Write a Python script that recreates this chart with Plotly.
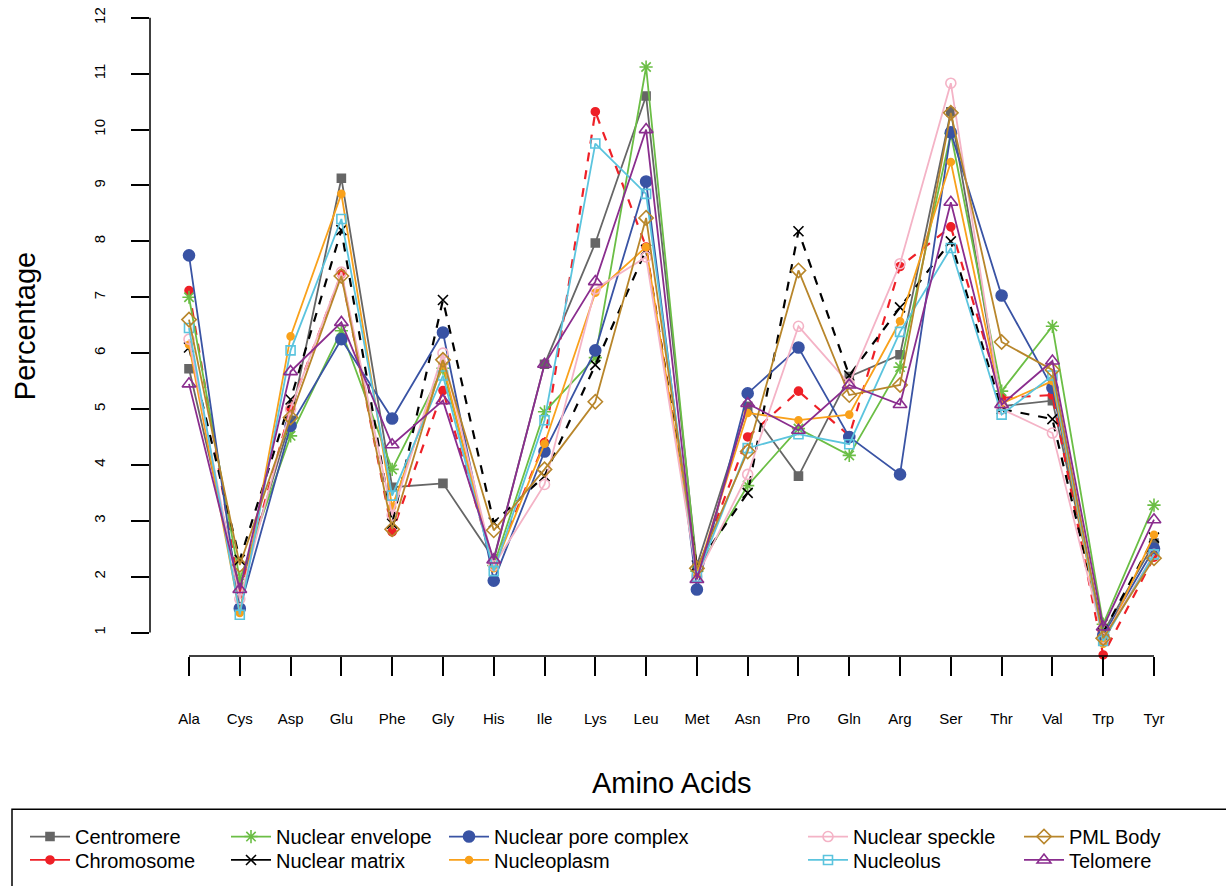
import plotly.graph_objects as go

amino_acids = ["Ala", "Cys", "Asp", "Glu", "Phe", "Gly", "His", "Ile", "Lys", "Leu",
               "Met", "Asn", "Pro", "Gln", "Arg", "Ser", "Thr", "Val", "Trp", "Tyr"]

centromere = [5.72, 1.80, 4.80, 9.13, 3.60, 3.67, 2.32, 5.80, 7.97, 10.60,
              2.20, 5.05, 3.80, 5.58, 5.97, 10.32, 5.05, 5.15, 1.00, 2.60]
chromosome = [7.12, 1.70, 5.02, 7.42, 2.80, 5.33, 2.20, 4.40, 10.32, 7.90,
              2.10, 4.50, 5.32, 4.52, 7.55, 8.26, 5.20, 5.25, 0.60, 2.35]
nuclear_envelope = [7.00, 1.95, 4.52, 6.40, 3.92, 5.73, 2.20, 4.95, 5.92, 11.12,
                    2.10, 3.63, 4.65, 4.17, 5.75, 9.93, 5.32, 6.48, 1.15, 3.28]
nuclear_matrix = [6.10, 2.30, 5.17, 8.20, 2.95, 6.95, 2.97, 3.80, 5.79, 7.85,
                  2.20, 3.50, 8.18, 5.60, 6.82, 8.00, 5.00, 4.82, 1.00, 2.70]
nuclear_pore_complex = [7.75, 1.43, 4.70, 6.25, 4.83, 6.37, 1.93, 4.24, 6.05, 9.07,
                        1.77, 5.28, 6.10, 4.50, 3.83, 9.95, 7.03, 5.38, 0.95, 2.50]
nucleoplasm = [6.15, 1.35, 6.30, 8.85, 3.25, 5.80, 2.15, 4.38, 7.08, 7.90,
               2.05, 4.93, 4.80, 4.90, 6.57, 9.42, 5.10, 5.50, 0.80, 2.75]
nuclear_speckle = [6.25, 1.60, 5.00, 7.45, 3.10, 6.00, 2.20, 3.65, 7.15, 7.72,
                   2.00, 3.83, 6.48, 5.45, 7.60, 10.83, 5.00, 4.57, 0.90, 2.40]
nucleolus = [6.45, 1.32, 6.05, 8.40, 3.45, 5.60, 2.10, 4.80, 9.75, 8.85,
             2.00, 4.30, 4.55, 4.37, 6.38, 7.88, 4.90, 5.60, 0.85, 2.40]
pml_body = [6.60, 2.21, 4.85, 7.38, 2.85, 5.88, 2.83, 3.92, 5.13, 8.42,
            2.15, 4.24, 7.48, 5.25, 5.43, 10.30, 6.20, 5.70, 0.90, 2.33]
telomere = [5.45, 1.77, 5.67, 6.55, 4.36, 5.15, 2.30, 5.80, 7.28, 10.00,
            1.95, 5.10, 4.62, 5.43, 5.08, 8.70, 5.08, 5.86, 1.10, 3.02]

y_ticks = list(range(1, 13))

series = [
    ("Centromere", centromere, "#666666", "square", 8, "solid", 1.8),
    ("Chromosome", chromosome, "#EE2027", "circle", 8, "dash", 2.2),
    ("Nuclear envelope", nuclear_envelope, "#6BBE45", "asterisk-open", 11, "solid", 1.8),
    ("Nuclear matrix", nuclear_matrix, "#000000", "x-thin-open", 10, "dash", 2.2),
    ("Nuclear pore complex", nuclear_pore_complex, "#3953A4", "circle", 11, "solid", 1.8),
    ("Nucleoplasm", nucleoplasm, "#F9A11B", "circle", 7, "solid", 1.8),
    ("Nuclear speckle", nuclear_speckle, "#F4B3C6", "circle-open", 10, "solid", 1.8),
    ("Nucleolus", nucleolus, "#5BC4DE", "square-open", 9, "solid", 1.8),
    ("PML Body", pml_body, "#B8862B", "diamond-open", 11, "solid", 1.8),
    ("Telomere", telomere, "#8A2D8E", "triangle-up-open", 12, "solid", 1.8),
]

W, H = 1226, 886
ML, MR, MT, MB = 150, 26, 7, 217
PW = W - ML - MR
PH = H - MT - MB


def paper_x(px):
    return (px - ML) / PW


def paper_y(py):
    return (H - MB - py) / PH


FONT = "Liberation Sans, Arial, Helvetica, sans-serif"

fig = go.Figure()

for i, (name, vals, color, sym, size, dash, lw) in enumerate(series):
    fig.add_trace(go.Scatter(
        x=amino_acids, y=vals, name=name, mode="lines+markers",
        line=dict(color=color, width=lw, dash=dash),
        marker=dict(symbol=sym, size=size, color=color, line=dict(color=color, width=1.6)),
        cliponaxis=False, showlegend=False,
    ))

# legend entries (solid lines, as in the original key)
col_origin = [25, 226, 444, 803, 1019]
row_center = [854, 878]
for i, (name, vals, color, sym, size, dash, lw) in enumerate(series):
    col, row = i // 2, i % 2
    lname = "legend" if i == 0 else f"legend{i + 1}"
    fig.add_trace(go.Scatter(
        x=[None], y=[None], name=name, mode="lines+markers",
        line=dict(color=color, width=1.8),
        marker=dict(symbol=sym, size=size, color=color, line=dict(color=color, width=1.6)),
        showlegend=True, legend=lname,
    ))
    fig.update_layout({lname: dict(
        x=paper_x(col_origin[col]), xanchor="left",
        y=paper_y(row_center[row]), yanchor="middle",
        bgcolor="rgba(0,0,0,0)", borderwidth=0,
        font=dict(family=FONT, size=20, color="#000000"),
        itemwidth=40, itemclick=False, itemdoubleclick=False,
    )})

shapes = [
    dict(type="line", xref="paper", yref="y", x0=0, x1=0, y0=1, y1=12,
         line=dict(color="black", width=1.5)),
    dict(type="line", xref="x", yref="paper", x0=amino_acids[0], x1=amino_acids[-1], y0=0, y1=0,
         line=dict(color="black", width=1.5)),
    dict(type="rect", xref="paper", yref="paper",
         x0=paper_x(12), x1=paper_x(1245), y0=paper_y(826), y1=paper_y(910),
         line=dict(color="black", width=1.5), fillcolor="rgba(0,0,0,0)"),
]

annotations = [
    dict(text="Amino Acids", xref="paper", yref="paper", x=paper_x(672), y=paper_y(799),
         showarrow=False, font=dict(family=FONT, size=29, color="black"),
         xanchor="center", yanchor="middle"),
    dict(text="Percentage", xref="paper", yref="paper", x=paper_x(25), y=paper_y(331),
         showarrow=False, font=dict(family=FONT, size=29, color="black"),
         textangle=-90, xanchor="center", yanchor="middle"),
]

# y: 12 -> px 15, 1 -> px 645 ; plot top px 7, bottom px 669
y_per_px = 11.0 / (645 - 15)
y_range = [1 - (669 - 645) * y_per_px, 12 + (15 - 7) * y_per_px]

fig.update_layout(
    width=W, height=H,
    margin=dict(l=ML, r=MR, t=MT, b=MB, pad=0),
    paper_bgcolor="white", plot_bgcolor="white",
    font=dict(family=FONT, color="black"),
    shapes=shapes, annotations=annotations,
    xaxis=dict(
        type="category", categoryorder="array", categoryarray=amino_acids,
        range=[-0.768, 19.906], showgrid=False, zeroline=False, showline=False,
        ticks="outside", ticklen=19, tickwidth=1.5, tickcolor="black",
        tickfont=dict(family=FONT, size=15, color="black"),
        ticklabelstandoff=30,
    ),
    yaxis=dict(
        range=y_range, showgrid=False, zeroline=False, showline=False,
        tickmode="array", tickvals=y_ticks, ticktext=[str(v) for v in y_ticks],
        ticks="outside", ticklen=18, tickwidth=1.5, tickcolor="black",
        tickfont=dict(family=FONT, size=15, color="black"),
        tickangle=-90, ticklabelstandoff=20,
    ),
)

fig.write_html(
    "out.html",
    config={"displayModeBar": False},
    post_script="document.body.style.margin='0';document.body.style.overflow='hidden';",
)
